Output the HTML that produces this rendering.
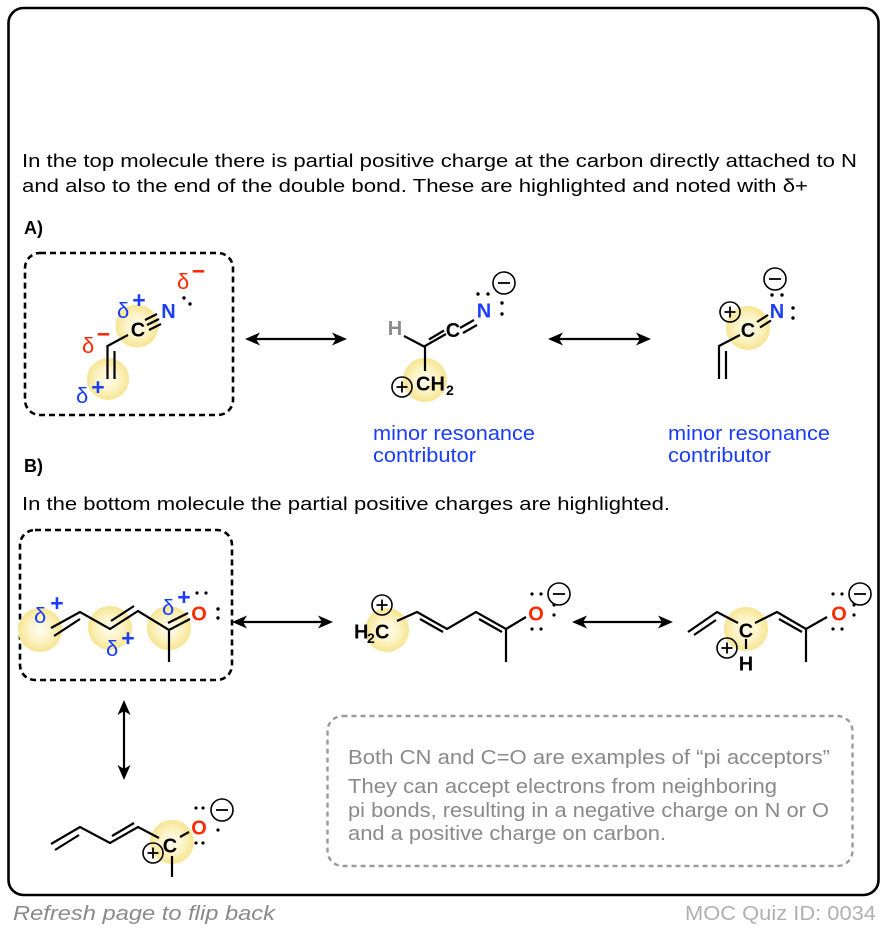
<!DOCTYPE html>
<html><head><meta charset="utf-8"><style>
html,body{margin:0;padding:0;background:#fff;}
svg{display:block;}
text{font-family:"Liberation Sans",Arial,sans-serif;}
.b{font-weight:bold;font-size:20px;}
.bond{stroke:#000;stroke-width:2.2;fill:none;}
.dot{fill:#000;}
.cir{fill:none;stroke:#000;stroke-width:1.6;}
.sym{stroke:#000;stroke-width:1.8;}
.d{font-size:22px;}
.s{font-size:23px;font-weight:bold;}
</style></head><body>
<svg width="886" height="930" viewBox="0 0 886 930" xmlns="http://www.w3.org/2000/svg">
<defs>
<radialGradient id="y" cx="50%" cy="50%" r="50%">
<stop offset="0%" stop-color="#fffdf2"/>
<stop offset="55%" stop-color="#fcf3c4"/>
<stop offset="100%" stop-color="#f6e592"/>
</radialGradient>
</defs>
<rect x="0" y="0" width="886" height="930" fill="#fff"/>
<rect x="8.5" y="8" width="870" height="887" rx="15" fill="none" stroke="#000" stroke-width="2.6"/>

<!-- text -->
<text x="22" y="167" font-size="18.5" textLength="835" lengthAdjust="spacingAndGlyphs">In the top molecule there is partial positive charge at the carbon directly attached to N</text>
<text x="22" y="192" font-size="18.5" textLength="786" lengthAdjust="spacingAndGlyphs">and also to the end of the double bond. These are highlighted and noted with δ+</text>
<text x="24" y="234" font-size="18" font-weight="bold">A)</text>
<text x="24" y="472" font-size="18" font-weight="bold">B)</text>
<text x="22" y="510" font-size="18.5" textLength="648" lengthAdjust="spacingAndGlyphs">In the bottom molecule the partial positive charges are highlighted.</text>

<!-- dashed box A -->
<rect x="25" y="253" width="208" height="162" rx="15" fill="none" stroke="#000" stroke-width="2.6" stroke-dasharray="6,4"/>

<!-- A1 -->
<circle cx="137" cy="326" r="21.5" fill="url(#y)"/>
<circle cx="108" cy="379" r="21" fill="url(#y)"/>
<line class="bond" x1="107.5" y1="346" x2="128" y2="335"/>
<line class="bond" x1="107.5" y1="345" x2="107.5" y2="379"/>
<line class="bond" x1="114.5" y1="351" x2="114.5" y2="379"/>
<line class="bond" x1="145" y1="320" x2="157" y2="314"/>
<line class="bond" x1="147" y1="325" x2="159" y2="319"/>
<line class="bond" x1="149" y1="330" x2="161" y2="324"/>
<text class="b" x="138" y="336.5" text-anchor="middle">C</text>
<text class="b" x="168.5" y="318" text-anchor="middle" fill="#1a3cff">N</text>
<circle class="dot" cx="184" cy="298" r="1.7"/>
<circle class="dot" cx="190" cy="304" r="1.7"/>
<text class="d" x="117" y="318" fill="#1a3cff">δ</text>
<text class="s" x="139" y="308" fill="#1a3cff" text-anchor="middle">+</text>
<text class="d" x="177" y="289" fill="#ff2a00">δ</text>
<text class="s" x="198.5" y="279" fill="#ff2a00" text-anchor="middle">−</text>
<text class="d" x="82" y="353" fill="#ff2a00">δ</text>
<text class="s" x="103.5" y="342" fill="#ff2a00" text-anchor="middle">−</text>
<text class="d" x="76" y="403" fill="#1a3cff">δ</text>
<text class="s" x="98" y="395" fill="#1a3cff" text-anchor="middle">+</text>

<!-- arrows A -->
<g fill="#000">
<line class="bond" x1="254" y1="339" x2="338" y2="339"/>
<path d="M245 339 L260 332.5 L256 339 L260 345.5 Z"/>
<path d="M347 339 L332 332.5 L336 339 L332 345.5 Z"/>
<line class="bond" x1="557" y1="339" x2="642" y2="339"/>
<path d="M548 339 L563 332.5 L559 339 L563 345.5 Z"/>
<path d="M651 339 L636 332.5 L640 339 L636 345.5 Z"/>
</g>

<!-- A2 -->
<circle cx="425" cy="380" r="22" fill="url(#y)"/>
<text x="395" y="335" font-size="20" font-weight="bold" fill="#8c8c8c" text-anchor="middle">H</text>
<line class="bond" x1="404" y1="336" x2="425" y2="347"/>
<line class="bond" x1="425" y1="346" x2="446" y2="334"/>
<line class="bond" x1="429" y1="339.5" x2="444" y2="330.5"/>
<line class="bond" x1="425" y1="345" x2="425" y2="371"/>
<text class="b" x="453" y="337" text-anchor="middle">C</text>
<line class="bond" x1="460" y1="328" x2="474" y2="320"/>
<line class="bond" x1="463" y1="333" x2="477" y2="325"/>
<text class="b" x="484" y="317.5" text-anchor="middle" fill="#1a3cff">N</text>
<circle class="dot" cx="478" cy="294" r="1.7"/>
<circle class="dot" cx="488" cy="294" r="1.7"/>
<circle class="dot" cx="502" cy="303" r="1.7"/>
<circle class="dot" cx="502" cy="314" r="1.7"/>
<circle class="cir" cx="504" cy="283" r="11"/>
<line class="sym" x1="498" y1="283" x2="510" y2="283"/>
<text class="b" x="416" y="390.5">CH</text>
<text x="446" y="395" font-size="14" font-weight="bold">2</text>
<circle class="cir" cx="402" cy="387" r="10"/>
<line class="sym" x1="396.5" y1="387" x2="407.5" y2="387"/>
<line class="sym" x1="402" y1="381.5" x2="402" y2="392.5"/>

<!-- A3 -->
<circle cx="748" cy="328" r="22" fill="url(#y)"/>
<line class="bond" x1="740" y1="335" x2="719" y2="346"/>
<line class="bond" x1="719" y1="345" x2="719" y2="379"/>
<line class="bond" x1="726" y1="351" x2="726" y2="379"/>
<text class="b" x="748" y="337" text-anchor="middle">C</text>
<line class="bond" x1="757" y1="322" x2="768" y2="315"/>
<line class="bond" x1="760" y1="327.5" x2="771" y2="320.5"/>
<text class="b" x="777" y="318" text-anchor="middle" fill="#1a3cff">N</text>
<circle class="dot" cx="772" cy="295" r="1.7"/>
<circle class="dot" cx="782" cy="295" r="1.7"/>
<circle class="dot" cx="793" cy="308" r="1.7"/>
<circle class="dot" cx="793" cy="318" r="1.7"/>
<circle class="cir" cx="775" cy="279" r="11"/>
<line class="sym" x1="769" y1="279" x2="781" y2="279"/>
<circle class="cir" cx="730" cy="312" r="10"/>
<line class="sym" x1="724.5" y1="312" x2="735.5" y2="312"/>
<line class="sym" x1="730" y1="306.5" x2="730" y2="317.5"/>

<!-- labels -->
<text x="373" y="440" font-size="20" fill="#1a3cff" textLength="162" lengthAdjust="spacingAndGlyphs">minor resonance</text>
<text x="373" y="462" font-size="20" fill="#1a3cff" textLength="103" lengthAdjust="spacingAndGlyphs">contributor</text>
<text x="668" y="440" font-size="20" fill="#1a3cff" textLength="162" lengthAdjust="spacingAndGlyphs">minor resonance</text>
<text x="668" y="462" font-size="20" fill="#1a3cff" textLength="103" lengthAdjust="spacingAndGlyphs">contributor</text>

<!-- dashed box B -->
<rect x="20" y="530" width="212" height="150" rx="15" fill="none" stroke="#000" stroke-width="2.6" stroke-dasharray="6,4"/>

<!-- B1 -->
<circle cx="40" cy="630" r="22" fill="url(#y)"/>
<circle cx="110" cy="628" r="22" fill="url(#y)"/>
<circle cx="169" cy="628" r="22" fill="url(#y)"/>
<polyline class="bond" points="51,628 80,612 110,629 138,611 169,630 190,619"/>
<line class="bond" x1="54" y1="636" x2="80" y2="619"/>
<line class="bond" x1="111" y1="621" x2="134" y2="606"/>
<line class="bond" x1="168" y1="623" x2="188" y2="613"/>
<line class="bond" x1="169" y1="629" x2="169" y2="662"/>
<text class="b" x="199" y="620.5" text-anchor="middle" fill="#ff2a00">O</text>
<circle class="dot" cx="197" cy="593" r="1.6"/>
<circle class="dot" cx="206" cy="593" r="1.6"/>
<circle class="dot" cx="218" cy="609" r="1.7"/>
<circle class="dot" cx="218" cy="618" r="1.7"/>
<text class="d" x="34" y="623" fill="#1a3cff">δ</text>
<text class="s" x="57" y="611" fill="#1a3cff" text-anchor="middle">+</text>
<text class="d" x="106" y="656" fill="#1a3cff">δ</text>
<text class="s" x="128" y="646" fill="#1a3cff" text-anchor="middle">+</text>
<text class="d" x="162" y="615" fill="#1a3cff">δ</text>
<text class="s" x="184" y="605" fill="#1a3cff" text-anchor="middle">+</text>

<!-- arrows B -->
<g fill="#000">
<line class="bond" x1="241" y1="622" x2="324" y2="622"/>
<path d="M232 622 L247 615.5 L243 622 L247 628.5 Z"/>
<path d="M333 622 L318 615.5 L322 622 L318 628.5 Z"/>
<line class="bond" x1="581" y1="622" x2="664" y2="622"/>
<path d="M572 622 L587 615.5 L583 622 L587 628.5 Z"/>
<path d="M673 622 L658 615.5 L662 622 L658 628.5 Z"/>
<line class="bond" x1="124" y1="709" x2="124" y2="771"/>
<path d="M124 700 L117.5 715 L124 711 L130.5 715 Z"/>
<path d="M124 780 L117.5 765 L124 769 L130.5 765 Z"/>
</g>

<!-- B2 -->
<circle cx="387" cy="630" r="22" fill="url(#y)"/>
<text class="b" x="354" y="638.5">H</text>
<text x="367" y="643" font-size="14" font-weight="bold">2</text>
<text class="b" x="375" y="638.5">C</text>
<circle class="cir" cx="382" cy="605" r="10"/>
<line class="sym" x1="376.5" y1="605" x2="387.5" y2="605"/>
<line class="sym" x1="382" y1="599.5" x2="382" y2="610.5"/>
<polyline class="bond" points="397,621 417,612 447,629 476,612 506,629 526,617"/>
<line class="bond" x1="420" y1="619" x2="443" y2="632"/>
<line class="bond" x1="479" y1="619" x2="502" y2="632"/>
<line class="bond" x1="506" y1="628" x2="506" y2="662"/>
<text class="b" x="536" y="620.5" text-anchor="middle" fill="#ff2a00">O</text>
<circle class="dot" cx="532" cy="594" r="1.6"/>
<circle class="dot" cx="541" cy="594" r="1.6"/>
<circle class="dot" cx="554" cy="605" r="1.6"/>
<circle class="dot" cx="554" cy="615" r="1.6"/>
<circle class="dot" cx="532" cy="629" r="1.6"/>
<circle class="dot" cx="541" cy="629" r="1.6"/>
<circle class="cir" cx="559" cy="594" r="11"/>
<line class="sym" x1="553" y1="594" x2="565" y2="594"/>

<!-- B3 -->
<circle cx="746" cy="629" r="22" fill="url(#y)"/>
<polyline class="bond" points="688,632 717,612 738,623"/>
<line class="bond" x1="694" y1="635" x2="716" y2="620"/>
<polyline class="bond" points="755,623 777,612 806,629 827,617"/>
<line class="bond" x1="779" y1="619" x2="802" y2="632"/>
<line class="bond" x1="806" y1="628" x2="806" y2="662"/>
<text class="b" x="746" y="637.5" text-anchor="middle">C</text>
<line class="bond" x1="746" y1="639" x2="746" y2="649"/>
<text class="b" x="746" y="670.5" text-anchor="middle">H</text>
<circle class="cir" cx="727" cy="648" r="10"/>
<line class="sym" x1="721.5" y1="648" x2="732.5" y2="648"/>
<line class="sym" x1="727" y1="642.5" x2="727" y2="653.5"/>
<text class="b" x="839" y="620.5" text-anchor="middle" fill="#ff2a00">O</text>
<circle class="dot" cx="833" cy="594" r="1.6"/>
<circle class="dot" cx="842" cy="594" r="1.6"/>
<circle class="dot" cx="854" cy="605" r="1.6"/>
<circle class="dot" cx="854" cy="615" r="1.6"/>
<circle class="dot" cx="833" cy="629" r="1.6"/>
<circle class="dot" cx="842" cy="629" r="1.6"/>
<circle class="cir" cx="860" cy="594" r="11"/>
<line class="sym" x1="854" y1="594" x2="866" y2="594"/>

<!-- B4 -->
<circle cx="172" cy="842" r="22" fill="url(#y)"/>
<polyline class="bond" points="51,844 80,827 110,843 138,827 159,838"/>
<line class="bond" x1="55" y1="850" x2="79" y2="835"/>
<line class="bond" x1="112" y1="836" x2="134" y2="823"/>
<text class="b" x="170" y="852.5" text-anchor="middle">C</text>
<line class="bond" x1="180" y1="837" x2="189" y2="832"/>
<line class="bond" x1="172" y1="856" x2="172" y2="877"/>
<text class="b" x="199" y="834.5" text-anchor="middle" fill="#ff2a00">O</text>
<circle class="dot" cx="196" cy="808" r="1.6"/>
<circle class="dot" cx="203" cy="808" r="1.6"/>
<circle class="dot" cx="218" cy="830" r="1.6"/>
<circle class="dot" cx="196" cy="843" r="1.6"/>
<circle class="dot" cx="203" cy="843" r="1.6"/>
<circle class="cir" cx="222" cy="810" r="11"/>
<line class="sym" x1="216" y1="810" x2="228" y2="810"/>
<circle class="cir" cx="153" cy="853" r="10"/>
<line class="sym" x1="147.5" y1="853" x2="158.5" y2="853"/>
<line class="sym" x1="153" y1="847.5" x2="153" y2="858.5"/>

<!-- note box -->
<rect x="327.5" y="716" width="525" height="150" rx="15" fill="none" stroke="#9a9a9a" stroke-width="2.4" stroke-dasharray="5,4"/>
<g fill="#8a8a8a" font-size="20">
<text x="348" y="764" textLength="482" lengthAdjust="spacingAndGlyphs">Both CN and C=O are examples of “pi acceptors”</text>
<text x="348" y="793" textLength="429" lengthAdjust="spacingAndGlyphs">They can accept electrons from neighboring</text>
<text x="348" y="817" textLength="481" lengthAdjust="spacingAndGlyphs">pi bonds, resulting in a negative charge on N or O</text>
<text x="348" y="840" textLength="318" lengthAdjust="spacingAndGlyphs">and a positive charge on carbon.</text>
</g>

<!-- footer -->
<text x="13" y="920" font-size="20" font-style="italic" fill="#8a8a8a" textLength="262" lengthAdjust="spacingAndGlyphs">Refresh page to flip back</text>
<text x="685" y="920" font-size="20" fill="#b0b0b0" textLength="191" lengthAdjust="spacingAndGlyphs">MOC Quiz ID: 0034</text>
</svg>
</body></html>
